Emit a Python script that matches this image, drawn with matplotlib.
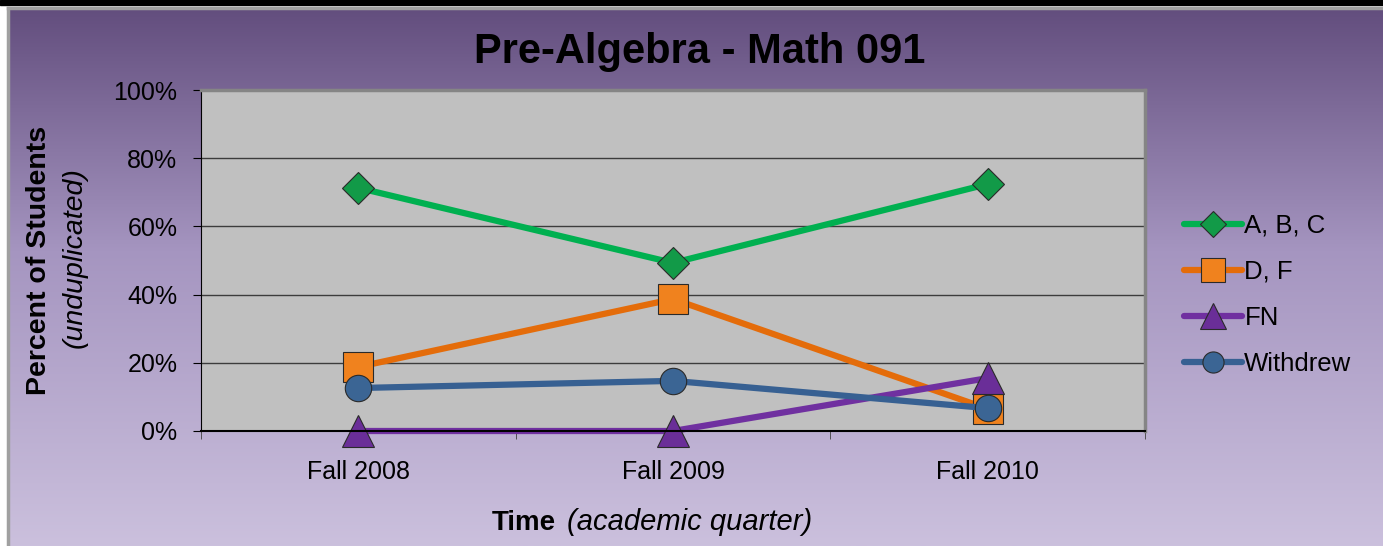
import numpy as np
import matplotlib
matplotlib.use("Agg")
import matplotlib.pyplot as plt
from matplotlib.colors import LinearSegmentedColormap
from matplotlib.lines import Line2D
from matplotlib.patches import Rectangle
from matplotlib.ticker import PercentFormatter, FixedLocator

terms = ["Fall 2008", "Fall 2009", "Fall 2010"]
abc = [71.3, 49.3, 72.4]
df = [18.8, 38.7, 6.5]
fn = [0.0, 0.0, 15.5]
withdrew = [12.6, 14.7, 6.7]
yticks = [0, 20, 40, 60, 80, 100]

plt.rcParams['font.family'] = ['Liberation Sans', 'DejaVu Sans']

W, H = 1383, 546
fig = plt.figure(figsize=(W / 100, H / 100), dpi=100, facecolor='white')

# gradient background frame
cmap = LinearSegmentedColormap.from_list('bg', [(0.0, '#634e7e'), (0.45, '#a595c0'), (1.0, '#cbc0dd')])
bg = fig.add_axes([8 / W, 0, 1 - 8 / W, 1 - 9 / H], zorder=-10)
bg.imshow(np.linspace(0, 1, 256).reshape(-1, 1), aspect='auto', cmap=cmap, extent=[0, 1, 0, 1])
bg.set_axis_off()
fig.add_artist(Line2D([7.5 / W, 7.5 / W], [0, 1 - 7.5 / H], transform=fig.transFigure, color='#a0a0a0', lw=2.5))
fig.add_artist(Line2D([7.5 / W, 1], [1 - 7.5 / H, 1 - 7.5 / H], transform=fig.transFigure, color='#a0a0a0', lw=2.5))
fig.add_artist(Rectangle((0, 1 - 5 / H), 1, 5 / H, transform=fig.transFigure, color='black'))

ax = fig.add_axes([201 / W, 1 - 431 / H, (1145 - 201) / W, (431 - 90) / H])
ax.set_facecolor('#c0c0c0')

x = np.arange(len(terms))
series = [
    ("A, B, C", abc, '#00b050', 'D', 16.5, '#129a48'),
    ("D, F", df, '#e46c0a', 's', 21, '#f0821e'),
    ("FN", fn, '#7030a0', '^', 23, '#6a2e98'),
    ("Withdrew", withdrew, '#376092', 'o', 19, '#3b6594'),
]
for name, vals, col, mk, ms, mcol in series:
    ax.plot(x, vals, color=col, lw=4.5, marker=mk, ms=ms, mfc=mcol,
            mec='#2a2a2a', mew=0.8, label=name, solid_capstyle='round', clip_on=False)

ax.set_xlim(-0.5, 2.5)
ax.set_ylim(0, 100)
ax.yaxis.set_major_locator(FixedLocator(yticks))
ax.yaxis.set_major_formatter(PercentFormatter(xmax=100, decimals=0))
for v in yticks[1:-1]:
    ax.axhline(v, color='#3c3c3c', lw=1, zorder=0.5)

ax.set_xticks(x)
ax.set_xticklabels(terms)
ax.set_xticks([-0.5, 0.5, 1.5, 2.5], minor=True)
ax.tick_params(axis='x', which='major', length=0, pad=21, labelsize=18)
ax.tick_params(axis='x', which='minor', length=6, direction='out', color='#404040')
ax.tick_params(axis='y', length=6, direction='out', pad=11, labelsize=18)

ax.spines['left'].set_color('black')
ax.spines['bottom'].set_color('black')
ax.spines['bottom'].set_linewidth(1.5)
ax.spines['top'].set_color('#858585')
ax.spines['right'].set_color('#858585')
ax.spines['top'].set_linewidth(2.5)
ax.spines['right'].set_linewidth(2.5)

fig.text(700 / W, 1 - 52 / H, "Pre-Algebra - Math 091", ha='center', va='center',
         fontsize=30, fontweight='bold')
fig.text(39 / W, 1 - 260 / H, "Percent of Students", rotation=90, ha='center', va='center',
         fontsize=20.5, fontweight='bold')
fig.text(75 / W, 1 - 258 / H, "(unduplicated)", rotation=90, ha='center', va='center',
         fontsize=20.5, style='italic')
fig.text(492 / W, 1 - 530 / H, "Time", ha='left', va='baseline', fontsize=20, fontweight='bold')
fig.text(567 / W, 1 - 530 / H, "(academic quarter)", ha='left', va='baseline', fontsize=21, style='italic')

fig.legend(loc='center left', bbox_to_anchor=(1184 / W, 1 - 295 / H), frameon=False,
           fontsize=18.5, handlelength=2.25, handletextpad=0.1, labelspacing=0.86,
           borderpad=0, borderaxespad=0, markerscale=0.8)

fig.savefig("out.png", dpi=100)
